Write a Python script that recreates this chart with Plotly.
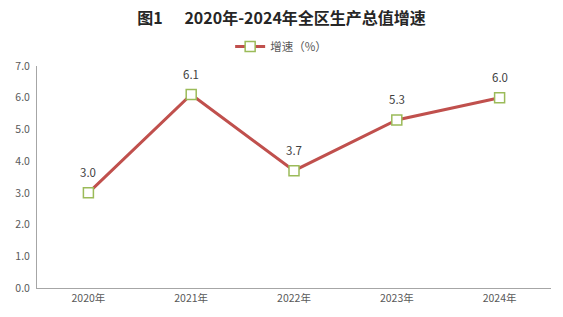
import plotly.graph_objects as go

years = ["2020年", "2021年", "2022年", "2023年", "2024年"]
growth = [3.0, 6.1, 3.7, 5.3, 6.0]
y_ticks = [0, 1, 2, 3, 4, 5, 6, 7]
y_tick_labels = ["0.0", "1.0", "2.0", "3.0", "4.0", "5.0", "6.0", "7.0"]

font_family = "Microsoft YaHei, Noto Sans CJK SC, sans-serif"

fig = go.Figure()
fig.add_trace(go.Scatter(
    x=list(range(len(years))), y=growth,
    mode="lines+markers",
    name="增速（%）",
    line=dict(color="#C0504D", width=3),
    marker=dict(symbol="square", size=10, color="white",
                line=dict(color="#9BBB59", width=1.5)),
    cliponaxis=False,
))

for i, v in enumerate(growth):
    fig.add_annotation(x=i, y=v, text=f"{v:.1f}", showarrow=False,
                       yshift=21, font=dict(size=11.5, color="#404040", family=font_family))

fig.update_layout(
    width=563, height=317,
    margin=dict(l=37, r=12, t=66, b=29),
    paper_bgcolor="white", plot_bgcolor="white",
    font=dict(family=font_family, color="#595959"),
    title=dict(text="<b>图1      2020年-2024年全区生产总值增速</b>",
               x=0.5, xanchor="center", y=0.942, yanchor="middle",
               font=dict(size=16, color="#262626", family=font_family)),
    showlegend=True,
    legend=dict(orientation="h", x=0.475, xanchor="center", y=1.088, yanchor="middle",
                font=dict(size=11.5, color="#595959", family=font_family),
                itemwidth=30),
    xaxis=dict(
        range=[-0.5, 4.5],
        tickmode="array", tickvals=list(range(len(years))), ticktext=years,
        showgrid=False, zeroline=False,
        showline=True, linecolor="#A6A6A6", linewidth=1,
        ticks="", tickfont=dict(size=10.5, color="#595959"),
        fixedrange=True,
    ),
    yaxis=dict(
        range=[0, 7],
        tickmode="array", tickvals=y_ticks, ticktext=y_tick_labels,
        showgrid=False, zeroline=False,
        showline=True, linecolor="#A6A6A6", linewidth=1,
        ticks="", tickfont=dict(size=10.5, color="#595959"),
        ticklabelstandoff=4,
        fixedrange=True,
    ),
)

fig.write_html("out.html")
